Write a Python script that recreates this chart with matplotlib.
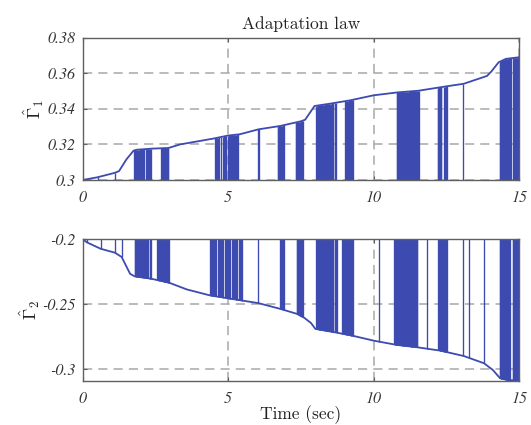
import numpy as np
import matplotlib.pyplot as plt

plt.rcParams['mathtext.fontset'] = 'cm'

BLUE = '#3d4ab0'
GRID = '#a8a8a8'
EDGE = '#606060'

# Gamma_1 estimate: smooth trend (time, value)
t1 = [0, 0.5, 1.1, 1.25, 1.5, 1.75, 1.85, 2.35, 2.95, 3.35, 4.5, 5.0, 5.4,
      6.05, 6.8, 7.5, 7.65, 7.97, 8.5, 9.2, 10.0, 10.8, 11.55, 12.4, 13.1,
      13.9, 14.05, 14.3, 14.55, 15.0]
g1 = [0.300, 0.3015, 0.3040, 0.3050, 0.3115, 0.3165, 0.3170, 0.3176, 0.3180,
      0.3200, 0.3233, 0.3250, 0.3257, 0.3285, 0.3304, 0.3330, 0.3339, 0.3416,
      0.3429, 0.3448, 0.3476, 0.3492, 0.3502, 0.3524, 0.3541, 0.3585, 0.3610,
      0.3662, 0.3681, 0.3690]

# instants where Gamma_1 is reset to its lower bound
sw1 = [0.54, 1.11,
       1.78, 1.80, 1.83, 1.86, 1.90, 1.93, 1.97, 2.00, 2.05, 2.08, 2.12, 2.16,
       2.21, 2.25, 2.28, 2.32, 2.35,
       2.69, 2.71, 2.73, 2.75, 2.77, 2.80, 2.82, 2.84, 2.87, 2.89, 2.91,
       2.93, 2.95,
       4.55, 4.58, 4.61, 4.65, 4.70, 4.76, 4.81, 4.86, 4.90, 4.94, 4.98, 5.02,
       5.05, 5.08, 5.11, 5.14, 5.17, 5.20, 5.23, 5.26, 5.29, 5.32, 5.35,
       6.04, 6.07,
       6.71, 6.73, 6.75, 6.77, 6.80, 6.82, 6.84, 6.87, 6.89, 6.92,
       7.33, 7.35, 7.37, 7.39, 7.42, 7.44, 7.46, 7.49, 7.51, 7.53, 7.55,
       7.57,
       8.03, 8.05, 8.08, 8.10, 8.12, 8.15, 8.17, 8.20, 8.22, 8.25, 8.27, 8.30,
       8.32, 8.35, 8.38, 8.40, 8.43, 8.45, 8.48, 8.50, 8.53, 8.56, 8.59, 8.62,
       8.66, 8.71,
       9.02, 9.05, 9.08, 9.11, 9.14, 9.17, 9.20, 9.23, 9.26, 9.29,
       10.80, 10.82, 10.85, 10.87, 10.90, 10.92, 10.95, 10.97, 11.00, 11.02,
       11.05, 11.08, 11.10, 11.13, 11.16, 11.19, 11.22, 11.25, 11.28, 11.31,
       11.34, 11.37, 11.40, 11.43, 11.46, 11.49, 11.52, 11.55,
       12.21, 12.23, 12.25, 12.27, 12.29, 12.31, 12.33, 12.42, 12.45, 12.48,
       12.52,
       13.09,
       14.33, 14.35, 14.37, 14.39, 14.41, 14.43, 14.45, 14.47, 14.49, 14.51,
       14.53, 14.55, 14.57, 14.59, 14.61, 14.63, 14.65, 14.67, 14.69, 14.72,
       14.81, 14.83, 14.85, 14.87, 14.89, 14.91, 14.93, 14.95, 14.97]

# Gamma_2 estimate
t2 = [0, 0.14, 0.62, 1.11, 1.34, 1.63, 1.79, 2.36, 2.98, 3.58, 4.38, 5.47,
      6.04, 6.79, 7.36, 7.62, 7.85, 8.0, 8.74, 9.31, 10.0, 10.8, 11.5, 12.3,
      13.1, 13.8, 14.1, 14.35, 14.6, 15.0]
g2 = [-0.2000, -0.2025, -0.2075, -0.2105, -0.2138, -0.2267, -0.2287, -0.2305,
      -0.2336, -0.2387, -0.2433, -0.2472, -0.2492, -0.2536, -0.2574, -0.2605,
      -0.2645, -0.2690, -0.2719, -0.2744, -0.2780, -0.2813, -0.2831, -0.2857,
      -0.2898, -0.2954, -0.3005, -0.3069, -0.3082, -0.3087]

sw2 = [0.14, 0.62, 1.11, 1.34,
       1.79, 1.81, 1.84, 1.87, 1.90, 1.93, 1.96, 2.00, 2.04, 2.07, 2.10, 2.14,
       2.18, 2.22, 2.26, 2.30, 2.33, 2.36,
       2.57, 2.60, 2.63, 2.66, 2.69, 2.71, 2.73, 2.75, 2.77, 2.79, 2.81, 2.83,
       2.85, 2.87, 2.89, 2.91, 2.93, 2.95, 2.98,
       4.38, 4.41, 4.44, 4.48, 4.52, 4.56, 4.60, 4.64, 4.68, 4.72, 4.76, 4.80,
       4.84, 4.88, 4.92, 4.96, 5.00, 5.04, 5.08, 5.12, 5.16, 5.20, 5.24, 5.28,
       5.32, 5.36, 5.40, 5.44, 5.47,
       6.04,
       6.79, 6.81, 6.83, 6.85, 6.87, 6.89, 6.92,
       7.36, 7.38, 7.40, 7.42, 7.44, 7.46, 7.48, 7.50, 7.52, 7.54, 7.57,
       8.03, 8.05, 8.08, 8.10, 8.12, 8.15, 8.17, 8.20, 8.22, 8.25, 8.27, 8.30,
       8.32, 8.35, 8.38, 8.40, 8.43, 8.45, 8.48, 8.50, 8.53, 8.56, 8.59, 8.62,
       8.66, 8.70, 8.74,
       8.91, 8.94, 8.97, 9.00, 9.03, 9.06, 9.09, 9.12, 9.15, 9.18, 9.21, 9.24,
       9.27, 9.29,
       10.17,
       10.71, 10.73, 10.76, 10.78, 10.81, 10.83, 10.86, 10.88, 10.91, 10.93,
       10.96, 10.98, 11.01, 11.03, 11.06, 11.09, 11.12, 11.15, 11.18, 11.21,
       11.24, 11.27, 11.30, 11.33, 11.36, 11.39, 11.42, 11.45, 11.48, 11.51,
       11.83,
       12.23, 12.25, 12.27, 12.29, 12.31, 12.33, 12.35, 12.37, 12.40, 12.43,
       12.46, 12.49, 12.52,
       13.07, 13.27,
       13.78,
       14.33, 14.35, 14.37, 14.39, 14.41, 14.43, 14.45, 14.47, 14.49, 14.51,
       14.53, 14.55, 14.57, 14.59, 14.61, 14.63, 14.65, 14.67, 14.70,
       14.79, 14.81, 14.83, 14.85, 14.87, 14.89, 14.91, 14.93, 14.95, 14.98]

xticks = [0, 5, 10, 15]
yticks1 = [0.30, 0.32, 0.34, 0.36, 0.38]
ylabels1 = ['0.3', '0.32', '0.34', '0.36', '0.38']
yticks2 = [-0.30, -0.25, -0.20]
ylabels2 = ['-0.3', '-0.25', '-0.2']

TICKFONT = dict(family='STIXGeneral', style='italic', size=11.5)

fig = plt.figure(figsize=(5.31, 4.25), dpi=100)
ax1 = fig.add_axes([0.1557, 0.5765, 0.8217, 0.3348])
ax2 = fig.add_axes([0.1557, 0.1035, 0.8217, 0.3341])


def draw(ax, t, g, sw, base):
    top = np.interp(sw, t, g)
    ax.vlines(sw, base, top, color=BLUE, lw=0.95)
    ax.plot(t, g, color=BLUE, lw=1.3)


def style(ax, yticks, ylabels, ylim):
    ax.set_xlim(0, 15)
    ax.set_ylim(*ylim)
    ax.set_xticks(xticks)
    ax.set_xticklabels([str(v) for v in xticks], fontdict=TICKFONT)
    ax.set_yticks(yticks)
    ax.set_yticklabels(ylabels, fontdict=TICKFONT)
    ax.grid(True, color=GRID, ls=(0, (6, 4)), lw=1.1)
    ax.set_axisbelow(True)
    for s in ax.spines.values():
        s.set_color(EDGE)
        s.set_linewidth(1.0)
    ax.tick_params(direction='in', length=3, width=0.8, color=EDGE,
                   top=True, right=True, labelcolor='#333333')
    ax.tick_params(axis='x', pad=8)
    ax.tick_params(axis='y', pad=5)


draw(ax1, t1, g1, sw1, 0.30)
style(ax1, yticks1, ylabels1, (0.30, 0.38))
ax1.set_title('Adaptation law', fontfamily='cmr10', fontsize=12.5,
              color='#222222', pad=6)
ax1.set_ylabel(r'$\hat{\Gamma}_1$', fontsize=13, color='#222222', labelpad=1)

draw(ax2, t2, g2, sw2, -0.20)
style(ax2, yticks2, ylabels2, (-0.309, -0.20))
ax2.set_ylabel(r'$\hat{\Gamma}_2$', fontsize=13, color='#222222', labelpad=0)
ax2.set_xlabel('Time (sec)', fontfamily='cmr10', fontsize=12.5,
               color='#222222', labelpad=-1)

fig.savefig('out.png', dpi=100)
